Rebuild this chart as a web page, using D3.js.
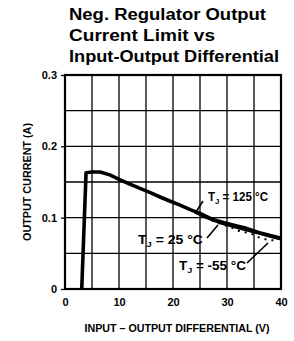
<!DOCTYPE html>
<html>
<head>
<meta charset="utf-8">
<script src="https://cdn.jsdelivr.net/npm/d3@7"></script>
<style>
  body { margin: 0; background: #fff; }
  text { font-family: "Liberation Sans", Arial, sans-serif; font-weight: bold; fill: #000; }
</style>
</head>
<body>
<svg id="chart" width="294" height="341"></svg>
<script>
// chart values
var titleLines = ["Neg. Regulator Output", "Current Limit vs", "Input-Output Differential"];
var xTicks = [0, 10, 20, 30, 40];
var yTicks = [0, 0.1, 0.2, 0.3];
var xTickLabels = ["0", "10", "20", "30", "40"];
var yTickLabels = ["0", "0.1", "0.2", "0.3"];

// T_J = 125 C (heavy curve)
var v125 = [3.1, 3.9, 5, 6.5, 8.3, 10.2, 12, 13.9, 15.8, 17.6, 19.5, 21.2, 23.3, 25, 27.5, 30, 32, 33.6, 36, 38, 40];
var i125 = [0, 0.163, 0.164, 0.164, 0.160, 0.153, 0.147, 0.141, 0.135, 0.129, 0.123, 0.118, 0.111, 0.106, 0.097, 0.092, 0.088, 0.085, 0.079, 0.075, 0.071];
// T_J = 25 C (runs just under the 125 C curve)
var v25 = [24, 26, 28, 30, 32, 34, 36, 38, 40];
var i25 = [0.107, 0.100, 0.094, 0.089, 0.085, 0.081, 0.077, 0.073, 0.069];
// T_J = -55 C (dotted)
var v55 = [26, 28, 29.3, 30.6, 32.4, 34.3, 36.1, 37.6, 39];
var i55 = [0.100, 0.094, 0.090, 0.087, 0.081, 0.078, 0.072, 0.069, 0.068];

var svg = d3.select("#chart");
var margin = {top: 75, right: 13, bottom: 52, left: 65};
var width = 281 - margin.left;
var height = 289 - margin.top;

var x = d3.scaleLinear().domain([0, 40]).range([0, width]);
var y = d3.scaleLinear().domain([0, 0.3]).range([height, 0]);

// title
svg.append("g").selectAll("text")
    .data(titleLines)
  .enter().append("text")
    .attr("x", 69)
    .attr("y", (d, i) => 20 + i * 21)
    .style("font-size", "16px")
    .attr("textLength", (d, i) => [197, 146, 210][i])
    .attr("lengthAdjust", "spacingAndGlyphs")
    .text(d => d);

var g = svg.append("g")
    .attr("transform", "translate(" + margin.left + "," + margin.top + ")");

// grid
g.selectAll(".vgrid")
    .data(d3.range(5, 40, 5))
  .enter().append("line")
    .attr("x1", d => x(d)).attr("x2", d => x(d))
    .attr("y1", 0).attr("y2", height)
    .attr("stroke", "#000").attr("stroke-width", 1.3);

g.selectAll(".hgrid")
    .data(d3.range(1, 6).map(d => d * 0.05))
  .enter().append("line")
    .attr("x1", 0).attr("x2", width)
    .attr("y1", d => y(d)).attr("y2", d => y(d))
    .attr("stroke", "#000").attr("stroke-width", 1.3);

// frame
g.append("rect")
    .attr("width", width).attr("height", height)
    .attr("fill", "none").attr("stroke", "#000").attr("stroke-width", 2.2);

// axes
var xAxis = d3.axisBottom(x).tickValues(xTicks).tickSize(0).tickPadding(9)
    .tickFormat((d, i) => xTickLabels[i]);
var yAxis = d3.axisLeft(y).tickValues(yTicks).tickSize(4).tickPadding(4)
    .tickFormat((d, i) => yTickLabels[i]);

var gx = g.append("g").attr("transform", "translate(0," + height + ")").call(xAxis);
var gy = g.append("g").call(yAxis);
gx.select(".domain").remove();
gy.select(".domain").remove();
gx.selectAll("text").style("font-size", "11px").attr("font-family", null);
gy.selectAll("text").style("font-size", "11px").attr("font-family", null);
gy.selectAll("line").attr("stroke-width", 1.3);

// axis titles
svg.append("text")
    .attr("x", 177).attr("y", 332)
    .attr("text-anchor", "middle")
    .style("font-size", "11px")
    .attr("textLength", 185).attr("lengthAdjust", "spacingAndGlyphs")
    .text("INPUT \u2013 OUTPUT DIFFERENTIAL (V)");

svg.append("text")
    .attr("transform", "translate(31,182) rotate(-90)")
    .attr("text-anchor", "middle")
    .style("font-size", "10px")
    .attr("textLength", 118).attr("lengthAdjust", "spacingAndGlyphs")
    .text("OUTPUT CURRENT (A)");

// curves
var line = d3.line().x(d => x(d[0])).y(d => y(d[1])).curve(d3.curveMonotoneX);

g.append("path")
    .datum(d3.zip(v25, i25))
    .attr("d", line)
    .attr("fill", "none").attr("stroke", "#000").attr("stroke-width", 1.6);

g.append("path")
    .datum(d3.zip(v55, i55))
    .attr("d", line)
    .attr("fill", "none").attr("stroke", "#000").attr("stroke-width", 2)
    .attr("stroke-dasharray", "2,5");

g.append("path")
    .datum(d3.zip(v125, i125))
    .attr("d", d3.line().x(d => x(d[0])).y(d => y(d[1])))
    .attr("fill", "none").attr("stroke", "#000").attr("stroke-width", 3.6)
    .attr("stroke-linejoin", "round");

// labels with leader lines
var labels = [
  {t: "125 \u00B0C", x: 208, y: 201, lx1: 203, ly1: 201, lx2: 196, ly2: 212, w: 60},
  {t: "25 \u00B0C", x: 138, y: 244, lx1: 207, ly1: 238, lx2: 218, ly2: 225, w: 65},
  {t: "-55 \u00B0C", x: 179, y: 270, lx1: 247, ly1: 263, lx2: 268, ly2: 243, w: 67}
];

labels.forEach(function(l) {
  var t = svg.append("text")
      .attr("x", l.x).attr("y", l.y)
      .style("font-size", "12px")
      .attr("textLength", l.w).attr("lengthAdjust", "spacingAndGlyphs");
  t.append("tspan").text("T");
  t.append("tspan").attr("dy", 3).style("font-size", "8px").text("J");
  t.append("tspan").attr("dy", -3).text(" = " + l.t);
  svg.append("line")
      .attr("x1", l.lx1).attr("y1", l.ly1)
      .attr("x2", l.lx2).attr("y2", l.ly2)
      .attr("stroke", "#000").attr("stroke-width", 1.6);
});
</script>
</body>
</html>
